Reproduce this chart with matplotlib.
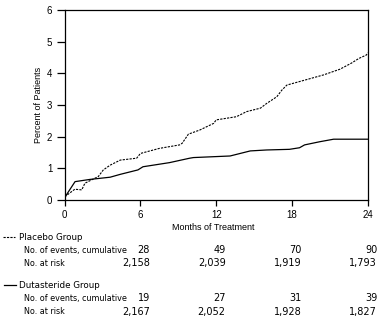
import matplotlib
matplotlib.use('Agg')
import matplotlib.pyplot as plt
from matplotlib import font_manager
from matplotlib.lines import Line2D
from matplotlib.transforms import blended_transform_factory

# Cumulative percent of patients
placebo_months = [0, 0.8, 1.35, 1.6, 2.66, 3.06, 3.6, 4.4, 5.7, 6.0, 7.5, 9.1, 9.3, 9.8,
                  10.7, 11.8, 12.0, 13.6, 14.4, 15.5, 16.0, 16.8, 17.2, 17.6, 18.6,
                  20.5, 21.8, 22.7, 23.3, 23.9, 24.0]
placebo_pct = [0.1, 0.34, 0.32, 0.53, 0.74, 0.95, 1.1, 1.26, 1.32, 1.47, 1.63, 1.74, 1.79, 2.08,
               2.21, 2.42, 2.53, 2.63, 2.79, 2.9, 3.05, 3.26, 3.47, 3.63, 3.74,
               3.95, 4.13, 4.32, 4.47, 4.58, 4.65]
duta_months = [0, 0.82, 2.0, 3.6, 4.4, 5.8, 6.2, 8.3, 9.9, 10.2, 13.1, 13.9, 14.7, 16.0,
               17.8, 18.6, 19.0, 20.2, 21.3, 24.0]
duta_pct = [0.08, 0.58, 0.65, 0.72, 0.81, 0.95, 1.05, 1.18, 1.32, 1.34, 1.39, 1.47, 1.55, 1.58,
            1.6, 1.65, 1.74, 1.84, 1.92, 1.92]

# Table below the chart
table_months = [6, 12, 18, 24]
placebo_events = ['28', '49', '70', '90']
placebo_risk = ['2,158', '2,039', '1,919', '1,793']
duta_events = ['19', '27', '31', '39']
duta_risk = ['2,167', '2,052', '1,928', '1,827']

# pick a narrow font if one is installed, otherwise smaller DejaVu
names = {f.name for f in font_manager.fontManager.ttflist}
fam = ['DejaVu Sans']
head_size, label_size, num_size = 6.3, 5.8, 7
if 'Liberation Sans Narrow' in names:
    fam = ['Liberation Sans Narrow', 'DejaVu Sans']
    head_size, label_size, num_size = 7.5, 7, 7.5

W, H = 381, 334
fig = plt.figure(figsize=(W / 100, H / 100), dpi=100)
ax = fig.add_axes([64.7 / W, 1 - 200 / H, 303 / W, 190 / H])

axis_font = ['Liberation Sans', 'DejaVu Sans']

ax.plot(placebo_months, placebo_pct, color='black', lw=0.8, linestyle=(0, (2.0, 1.1)))
ax.plot(duta_months, duta_pct, color='black', lw=0.9)

ax.set_xlim(0, 24)
ax.set_ylim(0, 6)
ax.set_xticks([0, 6, 12, 18, 24])
ax.set_yticks(range(7))
ax.tick_params(direction='out', length=4, width=0.9, labelsize=7, pad=3)
ax.tick_params(axis='y', length=6)
for lab in ax.get_xticklabels() + ax.get_yticklabels():
    lab.set_family(axis_font)
for s in ax.spines.values():
    s.set_linewidth(0.9)

ax.set_ylabel('Percent of Patients', fontsize=6.5, family=axis_font, labelpad=3)
fig.text(213 / W, 1 - 227 / H, 'Months of Treatment', fontsize=6.5, family=axis_font,
         ha='center', va='center')


def fy(py):
    return 1 - py / H


# group headers with line samples
fig.add_artist(Line2D([3 / W, 15 / W], [fy(237), fy(237)], color='black', lw=0.8,
                      linestyle=(0, (2.0, 1.1))))
fig.text(19 / W, fy(237), 'Placebo Group', fontsize=head_size, family=fam, va='center')
fig.add_artist(Line2D([4 / W, 16 / W], [fy(285), fy(285)], color='black', lw=0.9))
fig.text(19 / W, fy(285), 'Dutasteride Group', fontsize=head_size, family=fam, va='center')

trans = blended_transform_factory(ax.transData, fig.transFigure)
rows = [(250, 'No. of events, cumulative', placebo_events),
        (263, 'No. at risk', placebo_risk),
        (298, 'No. of events, cumulative', duta_events),
        (312, 'No. at risk', duta_risk)]
for py, label, vals in rows:
    fig.text(24 / W, fy(py), label, fontsize=label_size, family=fam, va='center')
    for m, v in zip(table_months, vals):
        ax.text(m + 0.75, fy(py), v, transform=trans, fontsize=num_size, family=fam,
                ha='right', va='center', clip_on=False)

fig.savefig('out.png', dpi=100)
